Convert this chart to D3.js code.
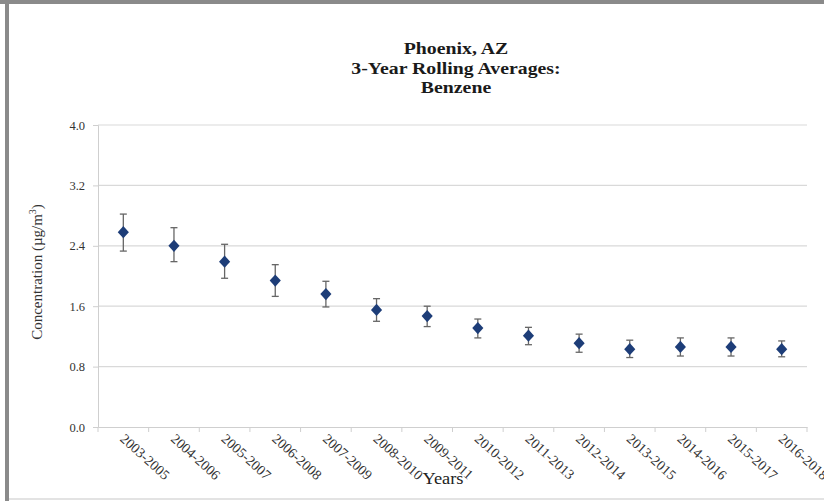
<!DOCTYPE html>
<html>
<head>
<meta charset="utf-8">
<script src="https://cdn.jsdelivr.net/npm/d3@7"></script>
<style>
  body { margin: 0; background: #fff; }
  text { font-family: "Liberation Serif", "Times New Roman", serif; }
</style>
</head>
<body>
<svg width="824" height="501"></svg>
<script>
// 3-year rolling averages of benzene, Phoenix AZ
var periods = ["2003-2005", "2004-2006", "2005-2007", "2006-2008", "2007-2009",
               "2008-2010", "2009-2011", "2010-2012", "2011-2013", "2012-2014",
               "2013-2015", "2014-2016", "2015-2017", "2016-2018"];
var means = [2.58, 2.40, 2.19, 1.94, 1.76, 1.55, 1.47, 1.31, 1.21, 1.11, 1.03, 1.06, 1.06, 1.03];
var upper = [2.82, 2.64, 2.42, 2.15, 1.93, 1.70, 1.60, 1.43, 1.32, 1.23, 1.15, 1.18, 1.18, 1.14];
var lower = [2.33, 2.19, 1.97, 1.73, 1.59, 1.40, 1.33, 1.18, 1.09, 0.99, 0.92, 0.94, 0.94, 0.93];
var yTicks = [0, 0.8, 1.6, 2.4, 3.2, 4.0];
var titleLines = ["Phoenix, AZ", "3-Year Rolling Averages:", "Benzene"];

var svg = d3.select("svg");

// page frame
svg.append("rect").attr("x", 0).attr("y", 0).attr("width", 824).attr("height", 4).attr("fill", "#8a8a8a");
svg.append("rect").attr("x", 5).attr("y", 0).attr("width", 4).attr("height", 501).attr("fill", "#8a8a8a");
svg.append("rect").attr("x", 9).attr("y", 498).attr("width", 815).attr("height", 2).attr("fill", "#e3e3e3");

var plotL = 98, plotR = 807, plotT = 125, plotB = 427;

var x = d3.scaleBand().domain(periods).range([plotL, plotR]);
var y = d3.scaleLinear().domain([0, 4]).range([plotB, plotT]);

// title (source font is a wide bold serif)
svg.append("g").selectAll("text")
  .data(titleLines)
  .enter().append("text")
  .attr("transform", function(d, i) { return "translate(456," + (54 + i * 19.5) + ") scale(1.2,1)"; })
  .attr("text-anchor", "middle")
  .attr("font-size", 16.5)
  .attr("font-weight", "bold")
  .attr("fill", "#1a1a1a")
  .text(function(d) { return d; });

// gridlines
svg.append("g").selectAll("line")
  .data(yTicks.slice(1))
  .enter().append("line")
  .attr("x1", plotL).attr("x2", plotR)
  .attr("y1", function(d) { return y(d); })
  .attr("y2", function(d) { return y(d); })
  .attr("stroke", "#d9d9d9").attr("stroke-width", 1.2);

// y axis
var yAxis = svg.append("g")
  .attr("transform", "translate(" + plotL + ",0)")
  .call(d3.axisLeft(y).tickValues(yTicks).tickFormat(d3.format(".1f")).tickSize(5).tickPadding(8));
yAxis.select(".domain").attr("stroke", "#cfcfcf");
yAxis.selectAll(".tick line").attr("stroke", "#cfcfcf");
yAxis.selectAll("text").attr("font-size", 12.5).attr("fill", "#333")
  .style("font-family", "'Liberation Serif', serif");

// x axis
var xAxis = svg.append("g")
  .attr("transform", "translate(0," + plotB + ")")
  .call(d3.axisBottom(x).tickSize(0).tickFormat(""));
xAxis.select(".domain").attr("stroke", "#cfcfcf");

// tick marks at band edges
svg.append("g").selectAll("line")
  .data(periods.concat(["end"]))
  .enter().append("line")
  .attr("x1", function(d, i) { return plotL + i * x.step(); })
  .attr("x2", function(d, i) { return plotL + i * x.step(); })
  .attr("y1", plotB).attr("y2", plotB + 5)
  .attr("stroke", "#cfcfcf");

// rotated category labels
svg.append("g").selectAll("text")
  .data(periods)
  .enter().append("text")
  .attr("transform", function(d) {
    return "translate(" + (x(d) + x.bandwidth() / 2 - 4) + "," + (plotB + 13) + ") rotate(42)";
  })
  .attr("font-size", 14)
  .attr("fill", "#333")
  .text(function(d) { return d; });

// axis titles
svg.append("text")
  .attr("transform", "translate(443,484) scale(1.15,1)")
  .attr("text-anchor", "middle")
  .attr("font-size", 16)
  .attr("fill", "#222")
  .text("Years");

var yTitle = svg.append("text")
  .attr("transform", "translate(42,272) rotate(-90)")
  .attr("text-anchor", "middle")
  .attr("font-size", 15)
  .attr("fill", "#333");
yTitle.append("tspan").text("Concentration (µg/m");
yTitle.append("tspan").attr("dy", -6).attr("font-size", 10).text("3");
yTitle.append("tspan").attr("dy", 6).text(")");

// error bars
var cx = function(i) { return x(periods[i]) + x.bandwidth() / 2; };
var err = svg.append("g").selectAll("g")
  .data(means)
  .enter().append("g")
  .attr("stroke", "#666").attr("stroke-width", 1.3);
err.append("line")
  .attr("x1", function(d, i) { return cx(i); }).attr("x2", function(d, i) { return cx(i); })
  .attr("y1", function(d, i) { return y(upper[i]); })
  .attr("y2", function(d, i) { return y(lower[i]); });
err.append("line")
  .attr("x1", function(d, i) { return cx(i) - 3.5; }).attr("x2", function(d, i) { return cx(i) + 3.5; })
  .attr("y1", function(d, i) { return y(upper[i]); })
  .attr("y2", function(d, i) { return y(upper[i]); });
err.append("line")
  .attr("x1", function(d, i) { return cx(i) - 3.5; }).attr("x2", function(d, i) { return cx(i) + 3.5; })
  .attr("y1", function(d, i) { return y(lower[i]); })
  .attr("y2", function(d, i) { return y(lower[i]); });

// diamond markers
var diamond = d3.symbol().type(d3.symbolSquare).size(62);
svg.append("g").selectAll("path")
  .data(means)
  .enter().append("path")
  .attr("d", diamond)
  .attr("transform", function(d, i) {
    return "translate(" + cx(i) + "," + y(d) + ") scale(1,1.1) rotate(45)";
  })
  .attr("fill", "#1d3d78");
</script>
</body>
</html>
